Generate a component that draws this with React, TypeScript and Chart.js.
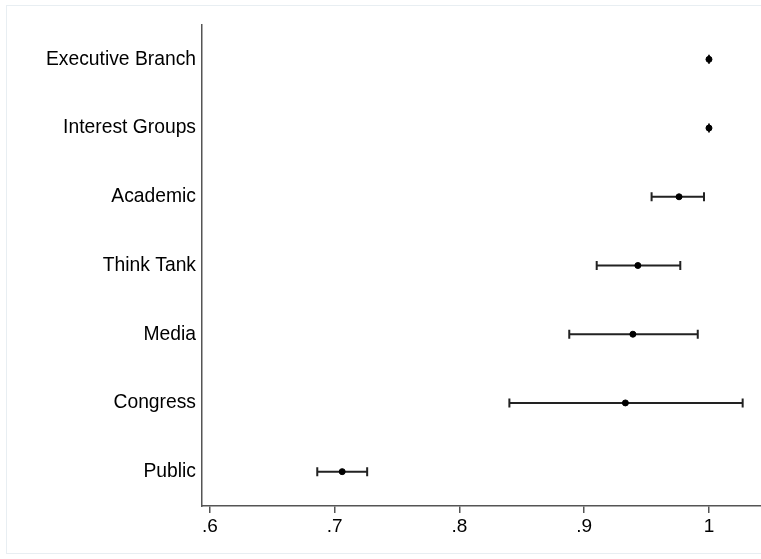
import React, { useEffect, useRef } from "react";
import { Chart, registerables } from "chart.js";

Chart.register(...registerables);

const categories = [
  "Executive Branch",
  "Interest Groups",
  "Academic",
  "Think Tank",
  "Media",
  "Congress",
  "Public",
];
const estimates = [1.0, 1.0, 0.976, 0.943, 0.939, 0.933, 0.706];
const lowerCI = [1.0, 1.0, 0.954, 0.91, 0.888, 0.84, 0.686];
const upperCI = [1.0, 1.0, 0.996, 0.977, 0.991, 1.027, 0.726];
const xTicks = [0.6, 0.7, 0.8, 0.9, 1.0];
const xTickLabels = [".6", ".7", ".8", ".9", "1"];

const FONT = "'Liberation Sans', Arial, Helvetica, sans-serif";

const errorBarPlugin = {
  id: "errorBars",
  beforeDatasetsDraw(chart: any) {
    const { ctx } = chart;
    const xs = chart.scales.x;
    const ys = chart.scales.y;
    ctx.save();
    ctx.strokeStyle = "#222";
    ctx.lineWidth = 2;
    for (let i = 0; i < categories.length; i++) {
      const y = ys.getPixelForValue(i);
      const x1 = xs.getPixelForValue(lowerCI[i]);
      const x2 = xs.getPixelForValue(upperCI[i]);
      ctx.beginPath();
      ctx.moveTo(x1, y);
      ctx.lineTo(x2, y);
      ctx.moveTo(x1, y - 4.5);
      ctx.lineTo(x1, y + 4.5);
      ctx.moveTo(x2, y - 4.5);
      ctx.lineTo(x2, y + 4.5);
      ctx.stroke();
    }
    ctx.restore();
  },
};

export default function App() {
  const ref = useRef<HTMLCanvasElement | null>(null);
  useEffect(() => {
    if (!ref.current) return;
    const chart = new Chart(ref.current, {
      type: "scatter",
      data: {
        datasets: [
          {
            data: categories.map((c, i) => ({ x: estimates[i], y: c })) as any,
            backgroundColor: "#000",
            borderColor: "#000",
            pointRadius: 3,
            pointHoverRadius: 3,
          },
        ],
      },
      options: {
        animation: false,
        responsive: false,
        events: [],
        layout: { padding: { left: 0, top: 25, right: 0, bottom: 0 } },
        plugins: { legend: { display: false }, tooltip: { enabled: false } },
        scales: {
          x: {
            type: "linear",
            min: 0.5936,
            max: 1.0417,
            afterBuildTicks: (axis: any) => {
              axis.ticks = xTicks.map((v) => ({ value: v }));
            },
            afterFit: (axis: any) => {
              axis.height = 53;
            },
            ticks: {
              color: "#000",
              font: { family: FONT, size: 19 },
              padding: 2,
              maxRotation: 0,
              callback: (v: any) => {
                const idx = xTicks.findIndex((t) => Math.abs(t - Number(v)) < 1e-9);
                return idx >= 0 ? xTickLabels[idx] : "";
              },
            },
            grid: {
              display: true,
              drawOnChartArea: false,
              drawTicks: true,
              tickLength: 7,
              color: "#555",
              lineWidth: 1.5,
            },
            border: { display: true, color: "#555", width: 1.5 },
          },
          y: {
            type: "category",
            labels: categories,
            offset: true,
            afterFit: (axis: any) => {
              axis.width = 202;
            },
            ticks: {
              color: "#000",
              font: { family: FONT, size: 19.3 },
              padding: 6,
            },
            grid: { display: false, drawTicks: false },
            border: { display: true, color: "#555", width: 1.5 },
          },
        },
      },
      plugins: [errorBarPlugin],
    });
    return () => chart.destroy();
  }, []);
  return (
    <div style={{ position: "fixed", left: 0, top: 0, width: 761, height: 559, background: "#fff", overflow: "hidden" }}>
      <div
        style={{
          position: "absolute",
          left: 6,
          top: 5,
          width: 760,
          height: 549,
          border: "1px solid #e8eef2",
          boxSizing: "border-box",
        }}
      />
      <canvas
        ref={ref}
        width={765}
        height={559}
        style={{ position: "absolute", left: 0, top: 0, width: 765, height: 559 }}
      />
    </div>
  );
}
